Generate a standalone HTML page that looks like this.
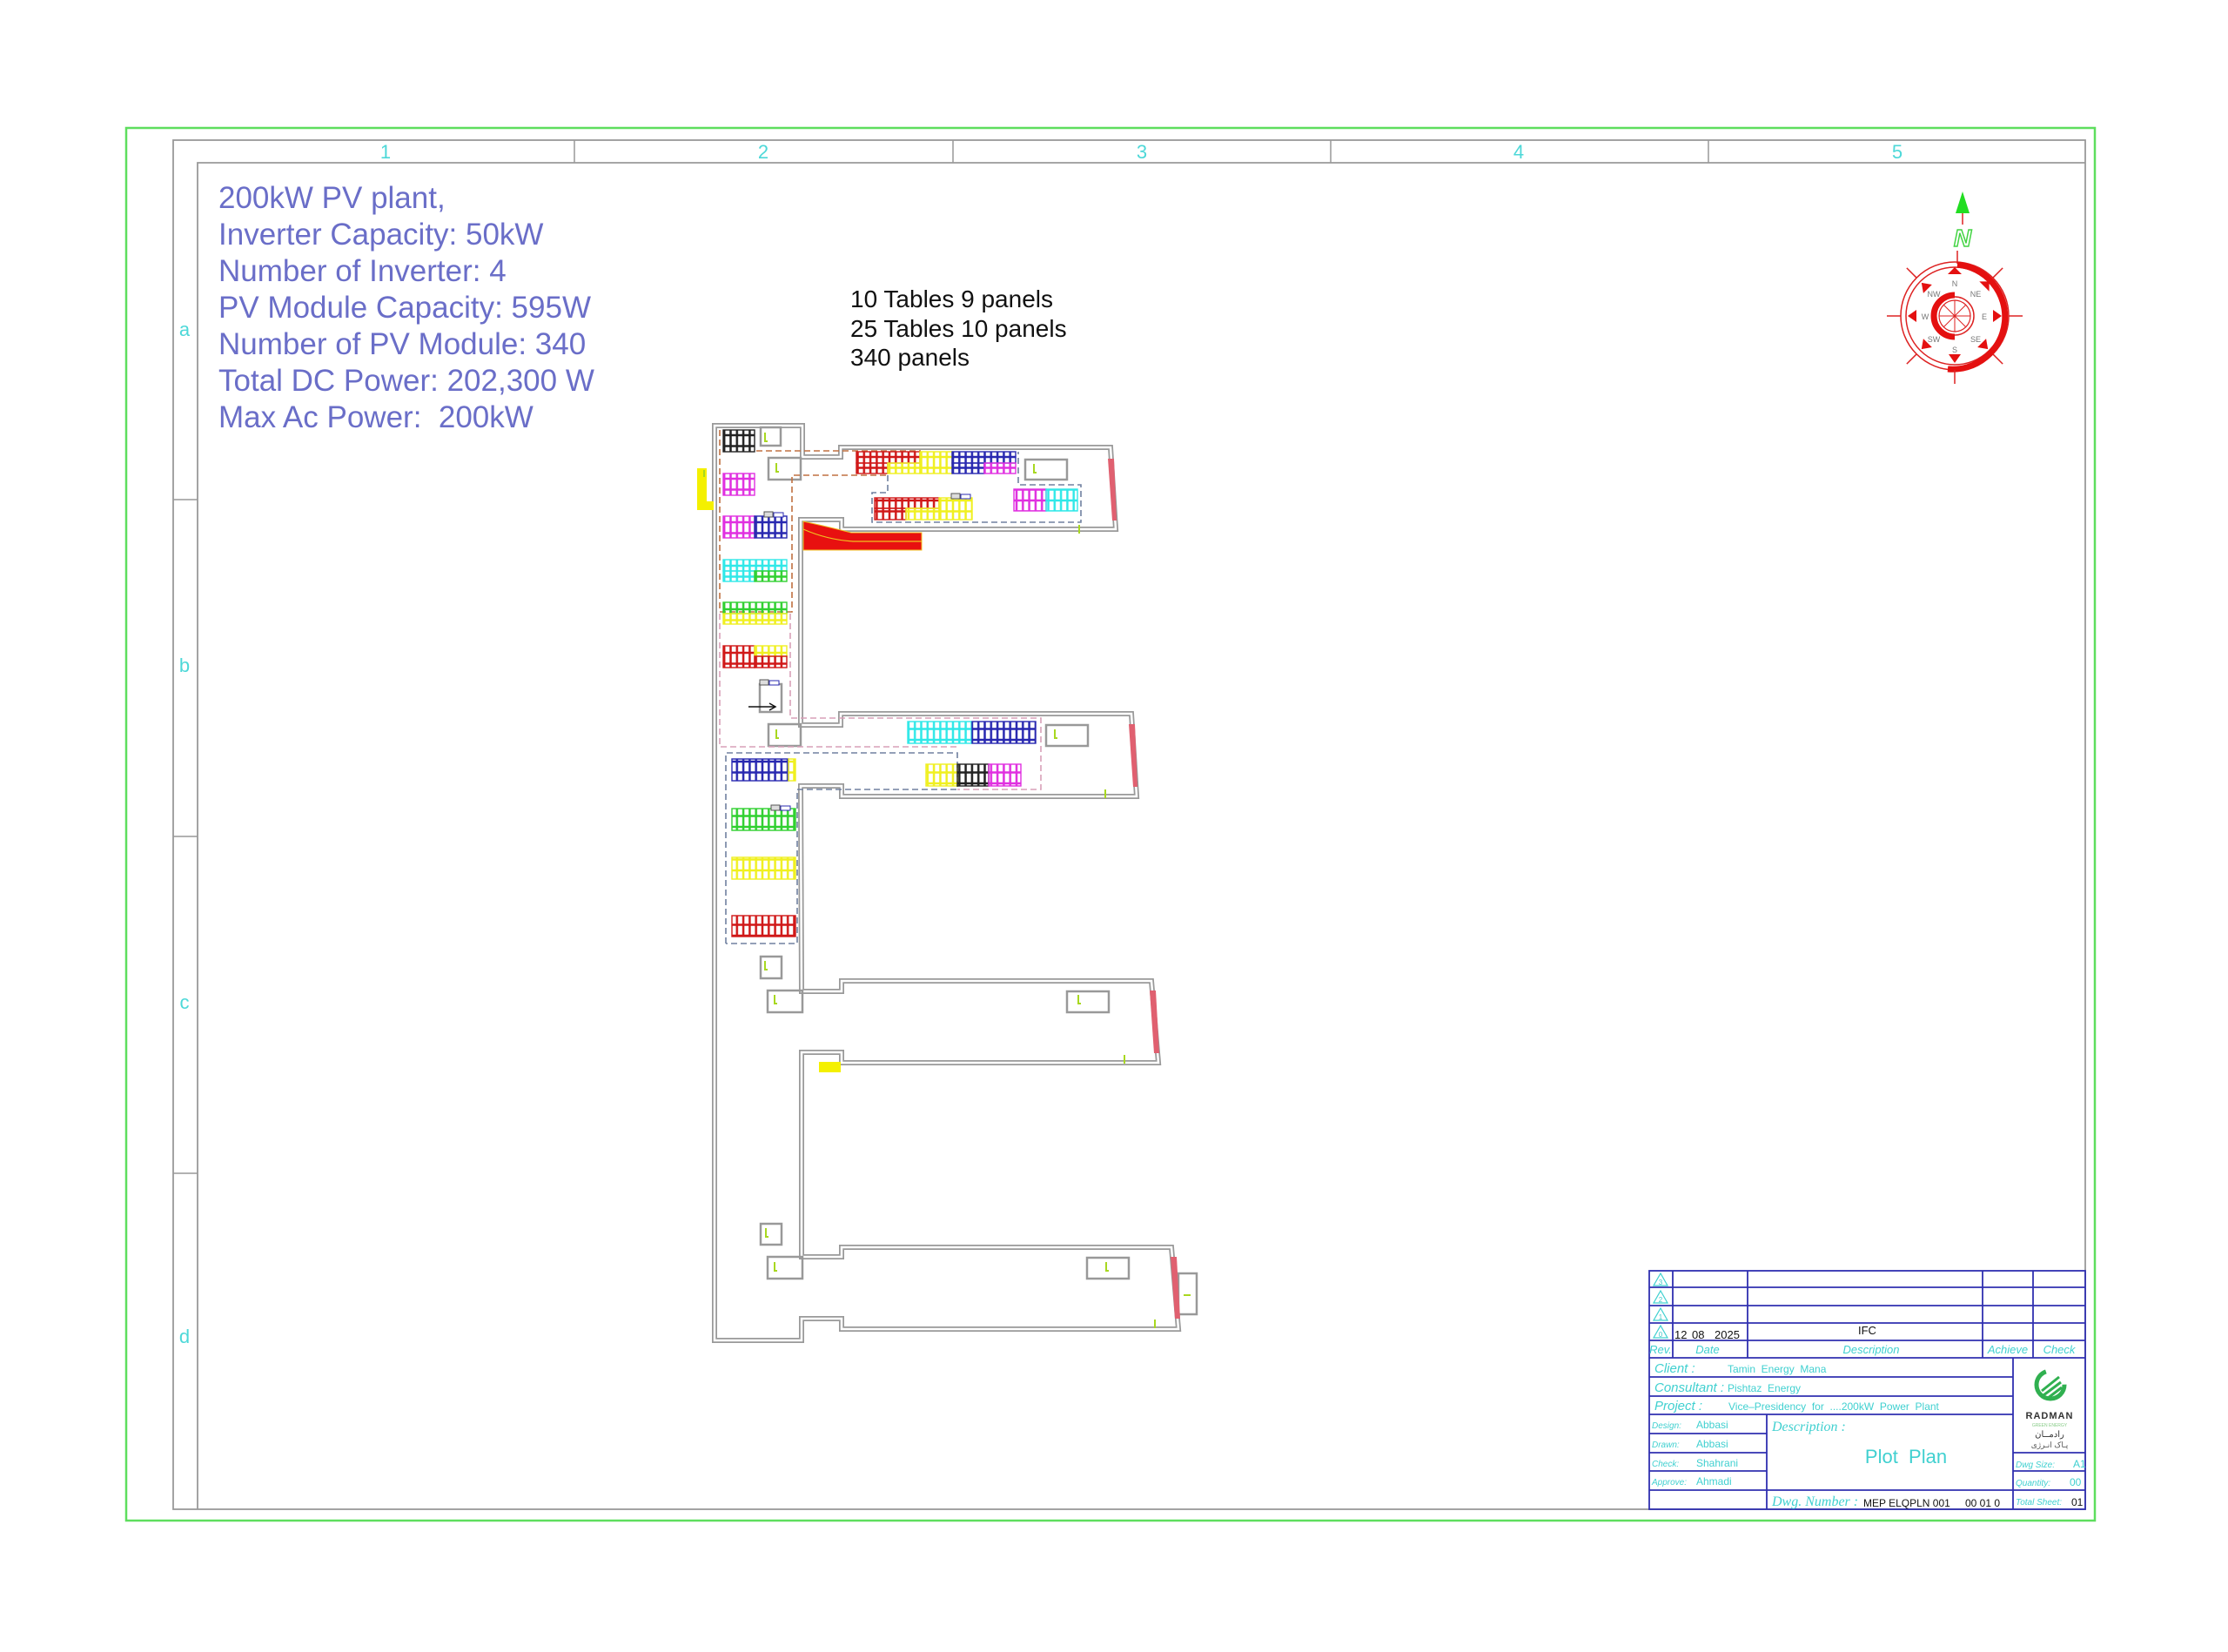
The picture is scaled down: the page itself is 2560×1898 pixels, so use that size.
<!DOCTYPE html>
<html><head><meta charset="utf-8"><style>
html,body{margin:0;padding:0;background:#fff;}
svg{display:block;}
text{font-family:"Liberation Sans",sans-serif;}
.ser{font-family:"Liberation Serif",serif;font-style:italic;}
</style></head><body>
<svg width="2560" height="1898" viewBox="0 0 2560 1898" xmlns="http://www.w3.org/2000/svg">
<defs>
<pattern id="pk" width="7.3" height="12.5" patternUnits="userSpaceOnUse"><rect x="0.6" y="0.6" width="6.1" height="11.3" fill="none" stroke="#222" stroke-width="1.3"/></pattern>
<pattern id="pm" width="7.3" height="12.5" patternUnits="userSpaceOnUse"><rect x="0.6" y="0.6" width="6.1" height="11.3" fill="none" stroke="#e030e0" stroke-width="1.3"/></pattern>
<pattern id="pb" width="7.3" height="12.5" patternUnits="userSpaceOnUse"><rect x="0.6" y="0.6" width="6.1" height="11.3" fill="none" stroke="#2828b0" stroke-width="1.3"/></pattern>
<pattern id="pc" width="7.3" height="12.5" patternUnits="userSpaceOnUse"><rect x="0.6" y="0.6" width="6.1" height="11.3" fill="none" stroke="#30e8e8" stroke-width="1.3"/></pattern>
<pattern id="pg" width="7.3" height="12.5" patternUnits="userSpaceOnUse"><rect x="0.6" y="0.6" width="6.1" height="11.3" fill="none" stroke="#30d030" stroke-width="1.3"/></pattern>
<pattern id="py" width="7.3" height="12.5" patternUnits="userSpaceOnUse"><rect x="0.6" y="0.6" width="6.1" height="11.3" fill="none" stroke="#f0f020" stroke-width="1.3"/></pattern>
<pattern id="pr" width="7.3" height="12.5" patternUnits="userSpaceOnUse"><rect x="0.6" y="0.6" width="6.1" height="11.3" fill="none" stroke="#d01818" stroke-width="1.3"/></pattern>
</defs>

<!-- frames -->
<rect x="145" y="147" width="2262" height="1600" fill="none" stroke="#5ede5e" stroke-width="2.5"/>
<rect x="199" y="161" width="2197" height="1573" fill="none" stroke="#999" stroke-width="1.8"/>
<polyline points="227,1734 227,187 2396,187" fill="none" stroke="#999" stroke-width="1.8"/>
<g stroke="#999" stroke-width="1.5">
<line x1="660" y1="161" x2="660" y2="187"/><line x1="1095" y1="161" x2="1095" y2="187"/>
<line x1="1529" y1="161" x2="1529" y2="187"/><line x1="1963" y1="161" x2="1963" y2="187"/>
<line x1="199" y1="574" x2="227" y2="574"/><line x1="199" y1="961" x2="227" y2="961"/><line x1="199" y1="1348" x2="227" y2="1348"/>
</g>
<g fill="#4dd8d8" font-size="22" text-anchor="middle">
<text x="443" y="182">1</text><text x="877" y="182">2</text><text x="1312" y="182">3</text><text x="1745" y="182">4</text><text x="2180" y="182">5</text>
<text x="212" y="386">a</text><text x="212" y="772">b</text><text x="212" y="1159">c</text><text x="212" y="1543">d</text>
</g>

<!-- stats text -->
<g fill="#6a6ec8" font-size="35">
<text x="251" y="239">200kW PV plant,</text>
<text x="251" y="281">Inverter Capacity: 50kW</text>
<text x="251" y="323">Number of Inverter: 4</text>
<text x="251" y="365">PV Module Capacity: 595W</text>
<text x="251" y="407">Number of PV Module: 340</text>
<text x="251" y="449">Total DC Power: 202,300 W</text>
<text x="251" y="491">Max Ac Power:&#160; 200kW</text>
</g>
<g fill="#111" font-size="28">
<text x="977" y="353">10 Tables 9 panels</text>
<text x="977" y="387">25 Tables 10 panels</text>
<text x="977" y="420">340 panels</text>
</g>

<!-- compass -->
<g transform="translate(2246,363)">
<polygon points="9,-143 1,-118 17,-118" fill="#22dd22"/>
<line x1="9" y1="-118" x2="9" y2="-105" stroke="#d22" stroke-width="1.5"/>
<text x="9" y="-80" font-size="28" font-weight="bold" fill="#fff" stroke="#44d444" stroke-width="1.5" text-anchor="middle" font-style="italic">N</text>
<line x1="3" y1="-75" x2="3" y2="-60" stroke="#d22" stroke-width="1.5"/>
<circle r="62" fill="none" stroke="#d22" stroke-width="1.5"/>
<circle r="56" fill="none" stroke="#d22" stroke-width="1.5"/>
<path d="M3,-59 A59,59 0 1 1 -8,61" fill="none" stroke="#e41010" stroke-width="7"/>
<g stroke="#d22" stroke-width="1.5">
<line x1="0" y1="-62" x2="0" y2="-78" transform="rotate(45)"/><line x1="0" y1="-62" x2="0" y2="-78" transform="rotate(90)"/>
<line x1="0" y1="-62" x2="0" y2="-78" transform="rotate(135)"/><line x1="0" y1="-62" x2="0" y2="-78" transform="rotate(180)"/>
<line x1="0" y1="-62" x2="0" y2="-78" transform="rotate(225)"/><line x1="0" y1="-62" x2="0" y2="-78" transform="rotate(270)"/>
<line x1="0" y1="-62" x2="0" y2="-78" transform="rotate(315)"/>
</g>
<g fill="#e41010">
<polygon points="-8,-48 8,-48 0,-56" transform="rotate(0)"/><polygon points="-8,-48 8,-48 0,-56" transform="rotate(45)"/>
<polygon points="-7,-44 7,-44 0,-54" transform="rotate(90)"/><polygon points="-7,-44 7,-44 0,-54" transform="rotate(135)"/>
<polygon points="-7,-44 7,-44 0,-54" transform="rotate(180)"/><polygon points="-7,-44 7,-44 0,-54" transform="rotate(225)"/>
<polygon points="-7,-44 7,-44 0,-54" transform="rotate(270)"/><polygon points="-7,-44 7,-44 0,-54" transform="rotate(315)"/>
</g>
<g fill="#777" font-size="9" text-anchor="middle">
<text x="0" y="-34">N</text><text x="24" y="-22">NE</text><text x="34" y="4">E</text><text x="24" y="30">SE</text>
<text x="0" y="42">S</text><text x="-24" y="30">SW</text><text x="-34" y="4">W</text><text x="-24" y="-22">NW</text>
</g>
<circle r="22" fill="none" stroke="#d22" stroke-width="1.5"/>
<path d="M0,-24 A24,24 0 0 0 0,24" fill="none" stroke="#e41010" stroke-width="7"/>
<circle r="18" fill="none" stroke="#d22" stroke-width="1.2"/>
<g stroke="#d22" stroke-width="1"><line x1="-18" y1="0" x2="18" y2="0"/><line x1="0" y1="-18" x2="0" y2="18"/><line x1="-13" y1="-13" x2="13" y2="13"/><line x1="-13" y1="13" x2="13" y2="-13"/></g>
</g>

<!-- building walls (double line) -->
<path d="M821,489 L922,489 L922,525 L966,525 L966,514 L1276,514 L1282,608 L967,608 L967,597 L920,597 L920,833 L966,833 L966,820 L1300,820 L1306,915 L967,915 L967,903 L920,903 L921,1139 L967,1139 L967,1127 L1323,1127 L1331,1221 L967,1221 L967,1209 L921,1209 L921,1444 L967,1444 L967,1433 L1346,1433 L1354,1527 L967,1527 L967,1515 L921,1515 L921,1540 L821,1540 Z" fill="none" stroke="#999" stroke-width="6"/>
<path d="M821,489 L922,489 L922,525 L966,525 L966,514 L1276,514 L1282,608 L967,608 L967,597 L920,597 L920,833 L966,833 L966,820 L1300,820 L1306,915 L967,915 L967,903 L920,903 L921,1139 L967,1139 L967,1127 L1323,1127 L1331,1221 L967,1221 L967,1209 L921,1209 L921,1444 L967,1444 L967,1433 L1346,1433 L1354,1527 L967,1527 L967,1515 L921,1515 L921,1540 L821,1540 Z" fill="none" stroke="#fff" stroke-width="2.5"/>

<!-- small boxes -->
<g fill="none" stroke="#999" stroke-width="2.5">
<rect x="874" y="491" width="23" height="21"/><rect x="883" y="526" width="37" height="25"/>
<rect x="1178" y="528" width="48" height="23"/><rect x="883" y="832" width="37" height="25"/>
<rect x="1202" y="833" width="48" height="24"/><rect x="874" y="1099" width="24" height="25"/>
<rect x="882" y="1138" width="40" height="25"/><rect x="1226" y="1139" width="48" height="24"/>
<rect x="874" y="1406" width="24" height="24"/><rect x="882" y="1444" width="40" height="25"/>
<rect x="1249" y="1445" width="48" height="24"/><rect x="1354" y="1463" width="21" height="47"/>
<rect x="873" y="786" width="25" height="32"/>
</g>
<line x1="860" y1="812" x2="890" y2="812" stroke="#111" stroke-width="1.5"/>
<polyline points="884,808 891,812 884,816" fill="none" stroke="#111" stroke-width="1.5"/>

<!-- red ramp -->
<path d="M923,599 Q955,606 978,612 L1059,612 L1059,632 L923,632 Z" fill="#e81010" stroke="#f0c020" stroke-width="1"/>
<path d="M923,608 Q950,620 980,622 L1059,622" fill="none" stroke="#f0c020" stroke-width="1.2"/>

<!-- right end bars -->
<g fill="#e06070">
<polygon points="1273,527 1280,527 1283,598 1278,598"/>
<polygon points="1297,832 1304,832 1307,904 1302,904"/>
<polygon points="1321,1138 1328,1138 1332,1210 1326,1210"/>
<polygon points="1345,1444 1352,1444 1356,1515 1350,1515"/>
</g>

<!-- yellow bracket left -->
<path d="M801,538 L812,538 L812,576 L820,576 L820,586 L801,586 Z" fill="#f4f000"/>
<rect x="941" y="1220" width="25" height="12" fill="#f4f000"/>

<!-- dashed boundaries -->
<g fill="none" stroke-width="1.6" stroke-dasharray="7,4">
<polyline points="869,518 1058,518" stroke="#c07040"/>
<polyline points="827,494 827,703 910,703 910,546 1020,546" stroke="#c07040"/>
<polyline points="1020,546 1020,566 1002,566 1002,600 1242,600 1242,557 1170,557 1170,519" stroke="#7080a0"/>
<polyline points="827,705 827,858 1100,858" stroke="#d8a0b8"/>
<polyline points="908,705 908,825 1196,825 1196,907 1100,907" stroke="#d8a0b8"/>
<polyline points="834,1084 834,865 1100,865 1100,907 916,907 916,1084 834,1084" stroke="#7080a0"/>
</g>

<!-- panel arrays -->
<g stroke-width="1.4">
<rect x="831" y="494" width="36" height="25" fill="url(#pk)" stroke="#222"/>
<rect x="831" y="544" width="36" height="25" fill="url(#pm)" stroke="#e030e0"/>
<rect x="831" y="593" width="36" height="25" fill="url(#pm)" stroke="#e030e0"/>
<rect x="867" y="593" width="37" height="25" fill="url(#pb)" stroke="#2828b0"/>
<rect x="831" y="643" width="73" height="13" fill="url(#pc)" stroke="#30e8e8"/>
<rect x="831" y="656" width="36" height="12" fill="url(#pc)" stroke="#30e8e8"/>
<rect x="867" y="656" width="37" height="12" fill="url(#pg)" stroke="#30d030"/>
<rect x="831" y="692" width="73" height="13" fill="url(#pg)" stroke="#30d030"/>
<rect x="831" y="705" width="73" height="12" fill="url(#py)" stroke="#f0f020"/>
<rect x="831" y="742" width="36" height="25" fill="url(#pr)" stroke="#d01818"/>
<rect x="867" y="742" width="37" height="12" fill="url(#py)" stroke="#f0f020"/>
<rect x="867" y="754" width="37" height="13" fill="url(#pr)" stroke="#d01818"/>

<rect x="984" y="519" width="73" height="13" fill="url(#pr)" stroke="#d01818"/>
<rect x="984" y="532" width="36" height="12" fill="url(#pr)" stroke="#d01818"/>
<rect x="1020" y="532" width="37" height="12" fill="url(#py)" stroke="#f0f020"/>
<rect x="1057" y="519" width="37" height="25" fill="url(#py)" stroke="#f0f020"/>
<rect x="1094" y="519" width="73" height="13" fill="url(#pb)" stroke="#2828b0"/>
<rect x="1094" y="532" width="37" height="12" fill="url(#pb)" stroke="#2828b0"/>
<rect x="1131" y="532" width="36" height="12" fill="url(#pm)" stroke="#e030e0"/>
<rect x="1005" y="572" width="74" height="12" fill="url(#pr)" stroke="#d01818"/>
<rect x="1005" y="584" width="36" height="13" fill="url(#pr)" stroke="#d01818"/>
<rect x="1041" y="584" width="38" height="13" fill="url(#py)" stroke="#f0f020"/>
<rect x="1079" y="572" width="38" height="25" fill="url(#py)" stroke="#f0f020"/>
<rect x="1165" y="562" width="37" height="25" fill="url(#pm)" stroke="#e030e0"/>
<rect x="1202" y="562" width="36" height="25" fill="url(#pc)" stroke="#30e8e8"/>

<rect x="1043" y="829" width="73" height="25" fill="url(#pc)" stroke="#30e8e8"/>
<rect x="1117" y="829" width="73" height="25" fill="url(#pb)" stroke="#2828b0"/>
<rect x="1064" y="878" width="36" height="25" fill="url(#py)" stroke="#f0f020"/>
<rect x="1100" y="878" width="36" height="25" fill="url(#pk)" stroke="#222"/>
<rect x="1136" y="878" width="37" height="25" fill="url(#pm)" stroke="#e030e0"/>
<rect x="841" y="872" width="65" height="25" fill="url(#pb)" stroke="#2828b0"/>
<rect x="906" y="872" width="8" height="25" fill="url(#py)" stroke="#f0f020"/>
<rect x="841" y="929" width="73" height="25" fill="url(#pg)" stroke="#30d030"/>
<rect x="841" y="985" width="73" height="25" fill="url(#py)" stroke="#f0f020"/>
<rect x="841" y="1052" width="73" height="24" fill="url(#pr)" stroke="#d01818"/>
</g>
<!-- inverter labels -->
<g stroke-width="1">
<rect x="878" y="588" width="10" height="6" fill="#ddd" stroke="#555"/><rect x="889" y="589" width="11" height="5" fill="#fff" stroke="#2828b0"/>
<rect x="1093" y="567" width="10" height="6" fill="#ddd" stroke="#555"/><rect x="1104" y="568" width="11" height="5" fill="#fff" stroke="#2828b0"/>
<rect x="873" y="781" width="10" height="6" fill="#ddd" stroke="#555"/><rect x="884" y="782" width="11" height="5" fill="#fff" stroke="#2828b0"/>
<rect x="886" y="925" width="10" height="6" fill="#ddd" stroke="#555"/><rect x="897" y="926" width="11" height="5" fill="#fff" stroke="#2828b0"/>
</g>
<!-- green markers -->
<g stroke="#a8d820" stroke-width="2" fill="none">
<path d="M879,497 v10 h3"/><path d="M892,532 v10 h3"/><path d="M1188,533 v10 h3"/><path d="M892,838 v10 h3"/>
<path d="M1212,838 v10 h3"/><path d="M879,1104 v10 h3"/><path d="M890,1143 v10 h3"/><path d="M1239,1143 v10 h3"/>
<path d="M880,1411 v10 h3"/><path d="M890,1450 v10 h3"/><path d="M1271,1450 v10 h3"/><path d="M1360,1488 h8"/>
<path d="M1240,603 v10"/><path d="M1270,907 v10"/><path d="M1292,1212 v10"/><path d="M1327,1516 v10"/>
<path d="M809,540 v8"/>
</g>

<!-- title block -->
<g fill="none" stroke="#3030b0" stroke-width="1.8">
<rect x="1895" y="1460" width="501" height="274"/>
<line x1="1895" y1="1479" x2="2396" y2="1479"/><line x1="1895" y1="1500" x2="2396" y2="1500"/>
<line x1="1895" y1="1520" x2="2396" y2="1520"/><line x1="1895" y1="1540" x2="2396" y2="1540"/>
<line x1="1895" y1="1560" x2="2396" y2="1560"/>
<line x1="1922" y1="1460" x2="1922" y2="1560"/><line x1="2008" y1="1460" x2="2008" y2="1560"/>
<line x1="2278" y1="1460" x2="2278" y2="1560"/><line x1="2336" y1="1460" x2="2336" y2="1560"/>
<line x1="1895" y1="1582" x2="2313" y2="1582"/><line x1="1895" y1="1604" x2="2313" y2="1604"/>
<line x1="1895" y1="1625" x2="2313" y2="1625"/>
<line x1="2313" y1="1560" x2="2313" y2="1734"/>
<line x1="2313" y1="1669" x2="2396" y2="1669"/><line x1="2313" y1="1690" x2="2396" y2="1690"/><line x1="2313" y1="1712" x2="2396" y2="1712"/>
<line x1="2030" y1="1625" x2="2030" y2="1734"/>
<line x1="1895" y1="1647" x2="2030" y2="1647"/><line x1="1895" y1="1669" x2="2030" y2="1669"/>
<line x1="1895" y1="1690" x2="2030" y2="1690"/><line x1="1895" y1="1712" x2="2313" y2="1712"/>
</g>
<g fill="none" stroke="#40d0d0" stroke-width="1.2">
<polygon points="1908,1463 1900,1477 1916,1477"/><polygon points="1908,1483 1900,1497 1916,1497"/>
<polygon points="1908,1503 1900,1517 1916,1517"/><polygon points="1908,1523 1900,1537 1916,1537"/>
</g>
<g fill="#40c8c8" font-size="8" text-anchor="middle"><text x="1908" y="1476">3</text><text x="1908" y="1496">2</text><text x="1908" y="1516">1</text><text x="1908" y="1536">0</text></g>
<g fill="#111" font-size="13"><text x="1924" y="1538">12</text><text x="1944" y="1538">08</text><text x="1970" y="1538">2025</text><text x="2135" y="1533">IFC</text></g>
<g class="ser" fill="#40d0d0" font-size="13" text-anchor="middle">
<text x="1908" y="1555">Rev.</text><text x="1962" y="1555">Date</text><text x="2150" y="1555">Description</text>
<text x="2307" y="1555">Achieve</text><text x="2366" y="1555">Check</text>
</g>
<g class="ser" fill="#40d0d0" font-size="15"><text x="1901" y="1577">Client :</text><text x="1901" y="1599">Consultant :</text><text x="1901" y="1620">Project :</text></g>
<g fill="#40d0d0" font-size="12"><text x="1985" y="1577">Tamin&#160; Energy&#160; Mana</text><text x="1985" y="1599">Pishtaz&#160; Energy</text><text x="1986" y="1620">Vice–Presidency&#160; for&#160; ....200kW&#160; Power&#160; Plant</text>
<text x="1949" y="1641">Abbasi</text><text x="1949" y="1663">Abbasi</text><text x="1949" y="1685">Shahrani</text><text x="1949" y="1706">Ahmadi</text>
<text x="2382" y="1686">A1</text><text x="2378" y="1707">00</text></g>
<g class="ser" fill="#40d0d0" font-size="10"><text x="1898" y="1641">Design:</text><text x="1898" y="1663">Drawn:</text><text x="1898" y="1685">Check:</text><text x="1898" y="1706">Approve:</text>
<text x="2316" y="1686">Dwg Size:</text><text x="2316" y="1707">Quantity:</text><text x="2316" y="1729">Total Sheet:</text></g>
<text class="ser" x="2036" y="1644" fill="#40d0d0" font-size="16">Description :</text>
<text x="2190" y="1681" fill="#40d0d0" font-size="22" text-anchor="middle">Plot&#160; Plan</text>
<text class="ser" x="2036" y="1730" fill="#40d0d0" font-size="16">Dwg. Number :</text>
<g fill="#111" font-size="12"><text x="2141" y="1731">MEP ELQPLN 001</text><text x="2258" y="1731">00 01  0</text><text x="2380" y="1730">01</text></g>
<!-- logo -->
<circle cx="2356" cy="1591" r="16" fill="none" stroke="#30b050" stroke-width="5" stroke-dasharray="70,30"/>
<path d="M2346,1598 L2366,1582 M2348,1603 L2368,1588 M2352,1607 L2369,1594" stroke="#30b050" stroke-width="3"/>
<text x="2355" y="1630" fill="#333" font-size="11" font-weight="bold" text-anchor="middle" letter-spacing="1">RADMAN</text>
<text x="2355" y="1639" fill="#8c8" font-size="5" text-anchor="middle">GREEN ENERGY</text>
<text x="2355" y="1651" fill="#333" font-size="10" text-anchor="middle" font-family="DejaVu Sans">رادمــان</text>
<text x="2355" y="1663" fill="#555" font-size="9" text-anchor="middle" font-family="DejaVu Sans">پـاک انـرژی</text>
</svg>
</body></html>
